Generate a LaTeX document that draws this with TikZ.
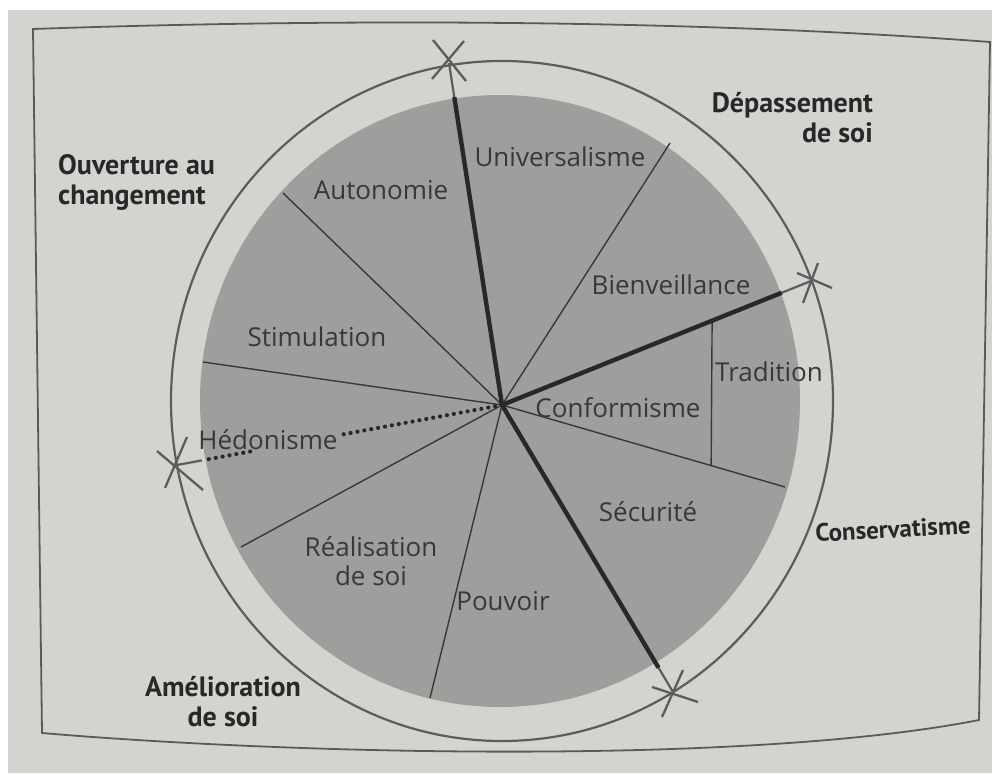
\documentclass[tikz,border=0pt]{standalone}
\usepackage{fontspec}
\setsansfont{Open Sans}
\newfontfamily\boldlab{PT Sans}
\usetikzlibrary{calc}
\definecolor{page}{HTML}{D3D3D0}
\definecolor{disk}{HTML}{9E9E9C}
\definecolor{ink}{HTML}{383838}
\definecolor{boldink}{HTML}{282828}
\definecolor{ringc}{HTML}{5C5C5C}
\definecolor{framec}{HTML}{5A5A5A}
\tikzset{
  seclab/.style={font=\sffamily\fontsize{26}{29}\selectfont, text=ink, inner sep=0pt, align=center},
  grplab/.style={font=\boldlab\bfseries\fontsize{28}{30}\selectfont, text=boldink, inner sep=0pt},
  spoke/.style={draw=ink, line width=1.4pt},
  axisthick/.style={draw=boldink, line width=4.4pt},
  axisout/.style={draw=ringc, line width=2.2pt},
  xmark/.style={draw=ringc, line width=2.3pt},
  dots/.style={draw=boldink, line width=4.2pt, line cap=round, dash pattern=on 0pt off 7pt},
}
\begin{document}
\begin{tikzpicture}[x=1pt,y=-1pt]
\useasboundingbox (0,0) rectangle (992,773);
% page
\fill[page] (0,0) rectangle (992,773);
\fill[white] (0,0) rectangle (992,10);
\fill[white] (0,0) rectangle (8,773);
% frame
\draw[framec, line width=1.8pt] (33,29) .. controls (350,18) and (700,20) .. (990,42)
  -- (979,720) .. controls (750,765) and (300,755) .. (42,733) -- cycle;
% disk and ring
\fill[disk] (500,401) ellipse [x radius=300pt, y radius=306pt];
\draw[ringc, line width=2.2pt] (502,401) ellipse [x radius=331pt, y radius=340pt];
% coordinates
\coordinate (hub) at (502,405);
\coordinate (xtop) at (449,63);
\coordinate (xright) at (811,281);
\coordinate (xbot) at (673,692);
\coordinate (xleft) at (177,465);
\coordinate (e1) at (283,193);
\coordinate (e2) at (203,362);
\coordinate (e3) at (241,547);
\coordinate (e4) at (430,698);
\coordinate (e5) at (785,487);
\coordinate (e6) at (670,143);
\coordinate (t1) at ($(hub)!0.68!(xright)$);
\coordinate (t2) at ($(hub)!0.739!(e5)$);
% thin spokes
\foreach \e in {e1,e2,e3,e4,e5,e6} \draw[spoke] (hub) -- (\e);
\draw[spoke] (t1) -- (t2);
% thick axes
\draw[axisout] ($(hub)!0.88!(xtop)$) -- (xtop);
\draw[axisout] ($(hub)!0.88!(xright)$) -- (xright);
\draw[axisout] ($(hub)!0.88!(xbot)$) -- (xbot);
\draw[axisthick] (hub) -- ($(hub)!0.9!(xtop)$);
\draw[axisthick] (hub) -- ($(hub)!0.905!(xright)$);
\draw[axisthick] (hub) -- ($(hub)!0.915!(xbot)$);
% dotted axis to Hedonisme
\coordinate (d1) at ($(hub)!0.49!(xleft)$);
\coordinate (d2) at ($(hub)!0.775!(xleft)$);
\coordinate (d3) at ($(hub)!0.923!(xleft)$);
\draw[dots] (hub) -- (d1);
\draw[dots] (d2) -- (d3);
\draw[axisout] (d3) -- (xleft);
% X marks
\draw[xmark] ($(xtop)+(-16,-23)$) -- ($(xtop)+(17,18)$);
\draw[xmark] ($(xtop)+(15,-22)$) -- ($(xtop)+(-17,16)$);
\draw[xmark] ($(xright)+(-14,-8)$) -- ($(xright)+(21,7)$);
\draw[xmark] ($(xright)+(7,-18)$) -- ($(xright)+(-8,22)$);
\draw[xmark] ($(xbot)+(10,-22)$) -- ($(xbot)+(-11,25)$);
\draw[xmark] ($(xbot)+(-21,-5)$) -- ($(xbot)+(25,10)$);
\draw[xmark] ($(xleft)+(-20,-14)$) -- ($(xleft)+(26,25)$);
\draw[xmark] ($(xleft)+(10,-28)$) -- ($(xleft)+(-12,23)$);
% sector labels
\node[seclab] (univ) at (560,157) {Universalisme};
\node[seclab] (auto) at (381,190) {Autonomie};
\node[seclab] (bien) at (671,285) {Bienveillance};
\node[seclab] (stim) at (317,337) {Stimulation};
\node[seclab] (trad) at (769,372) {Tradition};
\node[seclab] (conf) at (618,408) {Conformisme};
\node[seclab] (hedo) at (268,440) {Hédonisme};
\node[seclab] (secu) at (648,512) {Sécurité};
\node[seclab] (real) at (371,561) {Réalisation\\de soi};
\node[seclab] (pouv) at (503,601) {Pouvoir};
% group labels
\node[grplab, align=right, anchor=east] (depa) at (873,118) {Dépassement\\de soi};
\node[grplab, align=left, anchor=west] (ouve) at (58,182) {Ouverture au\\changement};
\node[grplab, rotate=3, font=\boldlab\bfseries\fontsize{25}{30}\selectfont] (cons) at (893,529) {Conservatisme};
\node[grplab, align=center] (amel) at (223,702) {Amélioration\\de soi};
\end{tikzpicture}
\end{document}
